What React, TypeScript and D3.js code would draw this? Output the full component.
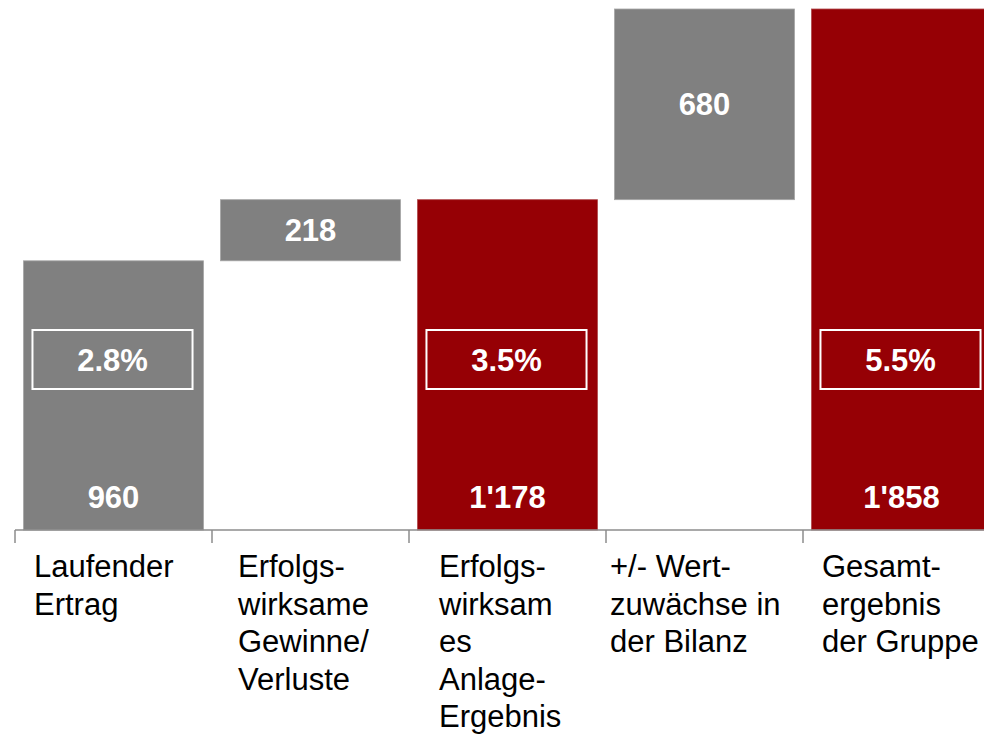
import React, { useEffect, useRef } from "react";
import * as d3 from "d3";

const categories = [
  "Laufender Ertrag",
  "Erfolgswirksame Gewinne/Verluste",
  "Erfolgswirksames Anlage-Ergebnis",
  "+/- Wertzuwächse in der Bilanz",
  "Gesamtergebnis der Gruppe",
];
const categoryLines = [
  ["Laufender", "Ertrag"],
  ["Erfolgs-", "wirksame", "Gewinne/", "Verluste"],
  ["Erfolgs-", "wirksam", "es", "Anlage-", "Ergebnis"],
  ["+/- Wert-", "zuwächse in", "der Bilanz"],
  ["Gesamt-", "ergebnis", "der Gruppe"],
];
const values = [960, 218, 1178, 680, 1858];
const barKinds = ["total", "delta", "total", "delta", "total"];
const valueLabels = ["960", "218", "1'178", "680", "1'858"];
const yieldLabels = ["2.8%", "", "3.5%", "", "5.5%"];

// small per-label horizontal nudges (layout only)
const labelDx = [10, 17, 21, -5, 10];

const GREY = "#808080";
const RED = "#960005";
const FONT = "'Liberation Sans', Arial, sans-serif";

const App = () => {
  const svgRef = useRef(null);

  useEffect(() => {
    const width = 984;
    const height = 737;
    const baseY = 530;

    const svg = d3.select(svgRef.current);
    svg.selectAll("*").remove();
    svg.attr("width", width).attr("height", height);

    // running totals for the waterfall
    const bars = values.map((v, i) => ({ key: categories[i], v, kind: barKinds[i] }));
    let run = 0;
    const spans = bars.map((b) => {
      if (b.kind === "total") {
        run = b.v;
        return { ...b, y0: 0, y1: b.v };
      }
      const s = { ...b, y0: run, y1: run + b.v };
      run += b.v;
      return s;
    });

    const x = d3
      .scaleBand()
      .domain(categories)
      .range([15, 1000])
      .paddingInner(0.086)
      .paddingOuter(0.043);

    const y = d3
      .scaleLinear()
      .domain([0, d3.max(spans, (d) => d.y1)])
      .range([baseY, 9]);

    const gap = x.step() * x.paddingInner();

    // bars
    svg
      .selectAll(".bar")
      .data(spans)
      .enter()
      .append("rect")
      .attr("class", "bar")
      .attr("x", (d) => x(d.key))
      .attr("y", (d) => y(d.y1))
      .attr("width", x.bandwidth())
      .attr("height", (d) => y(d.y0) - y(d.y1))
      .attr("fill", (d, i) => (i === 0 || d.kind === "delta" ? GREY : RED))
      .attr("stroke", (d, i) => (i === 0 || d.kind === "delta" ? "#a6a6a6" : "#b04a4d"))
      .attr("stroke-width", 0.8);

    // value labels: bottom for totals, centre for deltas
    svg
      .selectAll(".val")
      .data(spans)
      .enter()
      .append("text")
      .attr("class", "val")
      .attr("x", (d) => x(d.key) + x.bandwidth() / 2)
      .attr("y", (d) => (d.kind === "total" ? baseY - 22 : (y(d.y0) + y(d.y1)) / 2 + 11))
      .attr("text-anchor", "middle")
      .attr("fill", "#ffffff")
      .attr("font-family", FONT)
      .attr("font-weight", "bold")
      .attr("font-size", 31)
      .text((d, i) => valueLabels[i]);

    // yield boxes
    const boxH = 59;
    const boxY = 330;
    const yields = spans
      .map((d, i) => ({ key: d.key, label: yieldLabels[i] }))
      .filter((d) => d.label);

    svg
      .selectAll(".ybox")
      .data(yields)
      .enter()
      .append("rect")
      .attr("class", "ybox")
      .attr("x", (d) => x(d.key) + 9)
      .attr("y", boxY)
      .attr("width", x.bandwidth() - 20)
      .attr("height", boxH)
      .attr("fill", "none")
      .attr("stroke", "#ffffff")
      .attr("stroke-width", 2);

    svg
      .selectAll(".ytext")
      .data(yields)
      .enter()
      .append("text")
      .attr("class", "ytext")
      .attr("x", (d) => x(d.key) + 9 + (x.bandwidth() - 20) / 2)
      .attr("y", boxY + boxH / 2 + 11)
      .attr("text-anchor", "middle")
      .attr("fill", "#ffffff")
      .attr("font-family", FONT)
      .attr("font-weight", "bold")
      .attr("font-size", 31)
      .text((d) => d.label);

    // axis line + ticks at band boundaries
    const axis = svg.append("g").attr("stroke", "#8c8c8c").attr("stroke-width", 1.5);
    axis.append("line").attr("x1", 15).attr("x2", width).attr("y1", baseY).attr("y2", baseY);
    axis
      .selectAll(".tick")
      .data(categories)
      .enter()
      .append("line")
      .attr("x1", (d) => x(d) - gap / 2)
      .attr("x2", (d) => x(d) - gap / 2)
      .attr("y1", baseY)
      .attr("y2", baseY + 13);

    // category labels, left aligned, multi-line
    const labels = svg
      .selectAll(".cat")
      .data(categories)
      .enter()
      .append("text")
      .attr("class", "cat")
      .attr("font-family", FONT)
      .attr("font-size", 31)
      .attr("fill", "#000000");

    labels
      .selectAll("tspan")
      .data((d, i) => categoryLines[i].map((line) => ({ line, i, d })))
      .enter()
      .append("tspan")
      .attr("x", (t) => x(t.d) - gap / 2 + labelDx[t.i] + 9)
      .attr("y", (t, j) => 577 + j * 37.5)
      .text((t) => t.line);
  }, []);

  return (
    <svg
      ref={svgRef}
      style={{ position: "absolute", left: 0, top: 0, display: "block", background: "#fff" }}
    ></svg>
  );
};

export default App;
